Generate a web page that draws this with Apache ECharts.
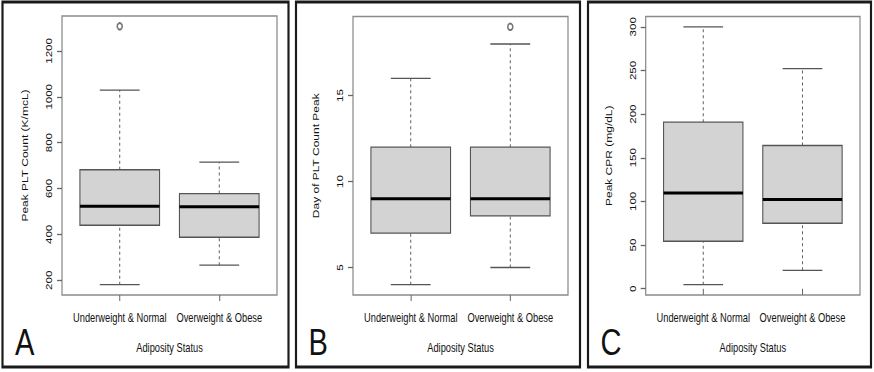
<!DOCTYPE html>
<html>
<head>
<meta charset="utf-8">
<script src="https://cdn.jsdelivr.net/npm/echarts@6/dist/echarts.min.js"></script>
<style>
html,body{margin:0;padding:0;background:#fff;overflow:hidden;width:874px;height:372px;}
#chart{position:absolute;left:0;top:0;width:1128px;height:372px;transform:scaleX(0.775);transform-origin:0 0;}
</style>
</head>
<body>
<div id="chart"></div>
<script>
// ---- data ----
const categories = ['Underweight & Normal', 'Overweight & Obese'];
// [lowerWhisker, Q1, median, Q3, upperWhisker]
const plateletPeak = [[181, 440, 523, 682, 1029], [266, 388, 521, 578, 715]];
const plateletPeakOutliers = [[1, 1307]];
const plateletDay = [[4, 7, 9, 12, 16], [5, 8, 9, 12, 18]];
const plateletDayOutliers = [[2, 19]];
const crpPeak = [[4.6, 54.4, 109.5, 190.8, 300], [21, 75, 102.3, 164, 252]];
const crpPeakOutliers = [];
const ticksA = [200, 400, 600, 800, 1000, 1200];
const ticksB = [5, 10, 15];
const ticksC = [0, 50, 100, 150, 200, 250, 300];
const yTitles = ['Peak PLT Count (K/mcL)', 'Day of PLT Count Peak', 'Peak CPR (mg/dL)'];
const xTitle = 'Adiposity Status';
const panelLetters = ['A', 'B', 'C'];

// the figure is horizontally compressed; layout is given in final pixels and divided by S
const S = 0.775;
const sx = v => v / S;

const FONT = '"Liberation Sans", Arial, sans-serif';
const TXT = '#111';

const panels = [
  {stats: plateletPeak, out: plateletPeakOutliers, ticks: ticksA, grid: {left: sx(62), top: 16, width: sx(215), height: 279}, frame: [2.5, 286]},
  {stats: plateletDay, out: plateletDayOutliers, ticks: ticksB, grid: {left: sx(353), top: 16.5, width: sx(215), height: 278.5}, frame: [296, 284]},
  {stats: crpPeak, out: crpPeakOutliers, ticks: ticksC, grid: {left: sx(645.7), top: 16.5, width: sx(214.3), height: 278.5}, frame: [588, 283]}
];

function yRange(p) {
  let lo = Infinity, hi = -Infinity;
  p.stats.forEach(s => { lo = Math.min(lo, s[0]); hi = Math.max(hi, s[4]); });
  p.out.forEach(o => { lo = Math.min(lo, o[1]); hi = Math.max(hi, o[1]); });
  const d = (hi - lo) * 0.04;
  return [lo - d, hi + d];
}

function renderBox(params, api) {
  const x = api.value(0);
  const lo = api.value(1), q1 = api.value(2), med = api.value(3), q3 = api.value(4), hi = api.value(5);
  const c = (a, b) => api.coord([a, b]);
  const grey = '#555';
  const dash = {stroke: grey, lineWidth: 1.2, lineDash: [3, 3]};
  const solid = {stroke: grey, lineWidth: 1.3};
  const p1 = c(x - 0.4, q3), p2 = c(x + 0.4, q1);
  return {
    type: 'group',
    children: [
      {type: 'line', shape: {x1: c(x, lo)[0], y1: c(x, lo)[1], x2: c(x, q1)[0], y2: c(x, q1)[1]}, style: dash},
      {type: 'line', shape: {x1: c(x, q3)[0], y1: c(x, q3)[1], x2: c(x, hi)[0], y2: c(x, hi)[1]}, style: dash},
      {type: 'line', shape: {x1: c(x - 0.2, lo)[0], y1: c(x - 0.2, lo)[1], x2: c(x + 0.2, lo)[0], y2: c(x + 0.2, lo)[1]}, style: solid},
      {type: 'line', shape: {x1: c(x - 0.2, hi)[0], y1: c(x - 0.2, hi)[1], x2: c(x + 0.2, hi)[0], y2: c(x + 0.2, hi)[1]}, style: solid},
      {type: 'rect', shape: {x: p1[0], y: p1[1], width: p2[0] - p1[0], height: p2[1] - p1[1]}, style: {fill: '#d3d3d3', stroke: grey, lineWidth: 1.4}},
      {type: 'line', shape: {x1: c(x - 0.4, med)[0], y1: c(x - 0.4, med)[1], x2: c(x + 0.4, med)[0], y2: c(x + 0.4, med)[1]}, style: {stroke: '#000', lineWidth: 3}}
    ]
  };
}

const grids = [], xAxes = [], yAxes = [], series = [], graphics = [];
panels.forEach((p, i) => {
  grids.push(Object.assign({show: true, borderColor: '#8a8a8a', borderWidth: 1.6, backgroundColor: 'transparent'}, p.grid));
  xAxes.push({
    type: 'value', gridIndex: i, min: 0.42, max: 2.58,
    splitLine: {show: false}, axisLine: {show: false},
    axisTick: {show: true, customValues: [1, 2], length: 6, lineStyle: {color: '#666', width: 1.3}},
    axisLabel: {show: true, customValues: [1, 2], margin: 17, fontSize: 12, fontFamily: FONT, color: TXT, hideOverlap: false,
      formatter: v => categories[Math.round(v) - 1] || ''},
    name: xTitle, nameLocation: 'middle', nameGap: 47,
    nameTextStyle: {fontSize: 12, fontFamily: FONT, color: TXT}
  });
  const r = yRange(p);
  yAxes.push({
    type: 'value', gridIndex: i, min: r[0], max: r[1],
    splitLine: {show: false}, axisLine: {show: false},
    axisTick: {show: true, customValues: p.ticks, length: sx(5), lineStyle: {color: '#666', width: 1.3}},
    axisLabel: {show: true, customValues: p.ticks, rotate: 90, margin: 11, fontSize: 11.5, fontFamily: FONT, color: TXT,
      formatter: v => String(v)},
    name: yTitles[i], nameLocation: 'middle', nameGap: 42,
    nameTextStyle: {fontSize: 12, fontFamily: FONT, color: TXT}
  });
  series.push({
    type: 'custom', xAxisIndex: i, yAxisIndex: i,
    renderItem: renderBox,
    data: p.stats.map((s, k) => [k + 1].concat(s)),
    silent: true
  });
  series.push({
    type: 'scatter', xAxisIndex: i, yAxisIndex: i,
    symbol: 'emptyCircle', symbolSize: 6.5,
    itemStyle: {color: '#555', borderColor: '#555', borderWidth: 1},
    data: p.out, silent: true, z: 5
  });
  graphics.push({
    type: 'rect', shape: {x: sx(p.frame[0]), y: 2, width: sx(p.frame[1]), height: 365},
    style: {fill: 'none', stroke: '#1a1a1a', lineWidth: 2.8}, silent: true
  });
  graphics.push({
    type: 'text', x: sx(p.frame[0] + 12.5), y: 361,
    style: {text: panelLetters[i], fontSize: 37.5, fontFamily: FONT, fill: '#111', textVerticalAlign: 'bottom'}, silent: true
  });
});

const chart = echarts.init(document.getElementById('chart'), null, {renderer: 'svg'});
chart.setOption({
  animation: false,
  backgroundColor: '#fff',
  grid: grids, xAxis: xAxes, yAxis: yAxes, series: series, graphic: graphics
});
</script>
</body>
</html>
